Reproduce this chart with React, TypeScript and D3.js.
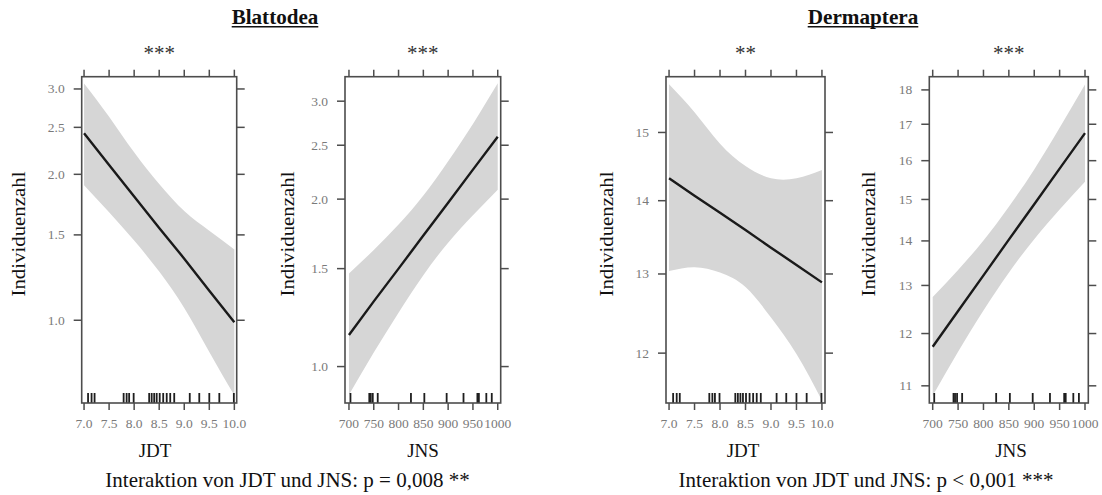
import React from "react";
import * as d3 from "d3";

// ---------- DATA ----------
const jdtGrid = [7.0, 7.5, 8.0, 8.5, 9.0, 9.5, 10.0];
const jnsGrid = [700, 750, 800, 850, 900, 950, 1000];

// Blattodea ~ JDT
const blattJdtFit = [2.43, 2.09, 1.8, 1.55, 1.34, 1.15, 0.99];
const blattJdtLower = [1.9, 1.67, 1.46, 1.26, 1.06, 0.86, 0.7];
const blattJdtUpper = [3.08, 2.63, 2.22, 1.91, 1.68, 1.53, 1.4];
// Blattodea ~ JNS
const blattJnsFit = [1.14, 1.31, 1.5, 1.72, 1.97, 2.26, 2.59];
const blattJnsLower = [0.89, 1.06, 1.25, 1.46, 1.67, 1.87, 2.08];
const blattJnsUpper = [1.47, 1.62, 1.8, 2.03, 2.34, 2.73, 3.23];
// Dermaptera ~ JDT
const dermJdtFit = [14.32, 14.07, 13.83, 13.59, 13.35, 13.12, 12.89];
const dermJdtLower = [13.04, 13.09, 13.02, 12.83, 12.44, 11.99, 11.44];
const dermJdtUpper = [15.75, 15.31, 14.83, 14.5, 14.32, 14.32, 14.44];
// Dermaptera ~ JNS
const dermJnsFit = [11.74, 12.46, 13.22, 14.03, 14.88, 15.79, 16.75];
const dermJnsLower = [10.82, 11.64, 12.47, 13.28, 14.04, 14.75, 15.45];
const dermJnsUpper = [12.75, 13.34, 14.01, 14.82, 15.77, 16.9, 18.16];

// rug (observed values)
const jdtRug = [7.08, 7.15, 7.21, 7.79, 7.85, 7.9, 7.99, 8.3, 8.35, 8.4, 8.45, 8.51, 8.58, 8.65, 8.72, 8.8, 9.11, 9.3, 9.5, 9.7, 9.99];
const jnsRug = [703, 741, 744, 748, 758, 825, 852, 897, 931, 959, 962, 977, 988];

// ticks
const jdtTicks = [7.0, 7.5, 8.0, 8.5, 9.0, 9.5, 10.0];
const jdtTickLabels = ["7.0", "7.5", "8.0", "8.5", "9.0", "9.5", "10.0"];
const jnsTicks = [700, 750, 800, 850, 900, 950, 1000];
const jnsTickLabels = ["700", "750", "800", "850", "900", "950", "1000"];
const blattJdtYTicks = [1.0, 1.5, 2.0, 2.5, 3.0];
const blattJdtYLabels = ["1.0", "1.5", "2.0", "2.5", "3.0"];
const blattJnsYTicks = [1.0, 1.5, 2.0, 2.5, 3.0];
const blattJnsYLabels = ["1.0", "1.5", "2.0", "2.5", "3.0"];
const dermJdtYTicks = [12, 13, 14, 15];
const dermJdtYLabels = ["12", "13", "14", "15"];
const dermJnsYTicks = [11, 12, 13, 14, 15, 16, 17, 18];
const dermJnsYLabels = ["11", "12", "13", "14", "15", "16", "17", "18"];

const groupTitles = ["Blattodea", "Dermaptera"];
const panelStars = ["***", "***", "**", "***"];
const xTitles = ["JDT", "JNS", "JDT", "JNS"];
const yTitle = "Individuenzahl";
const interactionTexts = [
  "Interaktion von JDT und JNS: p = 0,008 **",
  "Interaktion von JDT und JNS: p < 0,001 ***",
];

// ---------- LAYOUT ----------
const TOP = 76.7;
const BOTTOM = 403;
const FONT = "'Liberation Serif', 'Times New Roman', serif";

const panels = [
  {
    x0: 81.7, x1: 236.7, xDomain: [6.953, 10.047], yDomain: [0.675, 3.18],
    grid: jdtGrid, fit: blattJdtFit, lo: blattJdtLower, hi: blattJdtUpper, rug: jdtRug,
    xTicks: jdtTicks, xLabels: jdtTickLabels, yTicks: blattJdtYTicks, yLabels: blattJdtYLabels,
    stars: panelStars[0], xTitle: xTitles[0], yTitleX: 25, xTitleCx: 155,
  },
  {
    x0: 345, x1: 500.7, xDomain: [692, 1006], yDomain: [0.86, 3.32],
    grid: jnsGrid, fit: blattJnsFit, lo: blattJnsLower, hi: blattJnsUpper, rug: jnsRug,
    xTicks: jnsTicks, xLabels: jnsTickLabels, yTicks: blattJnsYTicks, yLabels: blattJnsYLabels,
    stars: panelStars[1], xTitle: xTitles[1], yTitleX: 294, xTitleCx: 423,
  },
  {
    x0: 666, x1: 825, xDomain: [6.94, 10.06], yDomain: [11.41, 15.87],
    grid: jdtGrid, fit: dermJdtFit, lo: dermJdtLower, hi: dermJdtUpper, rug: jdtRug,
    xTicks: jdtTicks, xLabels: jdtTickLabels, yTicks: dermJdtYTicks, yLabels: dermJdtYLabels,
    stars: panelStars[2], xTitle: xTitles[2], yTitleX: 613, xTitleCx: 743,
  },
  {
    x0: 929.3, x1: 1088.3, xDomain: [693.3, 1006.5], yDomain: [10.69, 18.4],
    grid: jnsGrid, fit: dermJnsFit, lo: dermJnsLower, hi: dermJnsUpper, rug: jnsRug,
    xTicks: jnsTicks, xLabels: jnsTickLabels, yTicks: dermJnsYTicks, yLabels: dermJnsYLabels,
    stars: panelStars[3], xTitle: xTitles[3], yTitleX: 875, xTitleCx: 1011,
  },
];

const groupLayout = [
  { cx: 275, width: 86.6, bottomCx: 287.5 },
  { cx: 863, width: 110.6, bottomCx: 866 },
];

const AXIS = "#4d4d4d";
const TICKLAB = "#7a7a7a";

function Panel({ p }: { p: any }) {
  const x = d3.scaleLinear().domain(p.xDomain).range([p.x0, p.x1]);
  const y = d3.scaleLog().domain(p.yDomain).range([BOTTOM, TOP]);
  const idx = p.grid.map((_: number, i: number) => i);
  const area = d3
    .area<number>()
    .x((i) => x(p.grid[i]))
    .y0((i) => y(p.lo[i]))
    .y1((i) => y(p.hi[i]))
    .curve(d3.curveNatural);
  const line = d3
    .line<number>()
    .x((i) => x(p.grid[i]))
    .y((i) => y(p.fit[i]));
  const cx = (p.x0 + p.x1) / 2;
  const cy = 234;
  return (
    <g>
      <defs>
        <clipPath id={`clip-${p.x0}`}>
          <rect x={p.x0} y={TOP} width={p.x1 - p.x0} height={BOTTOM - TOP} />
        </clipPath>
      </defs>
      <g clipPath={`url(#clip-${p.x0})`}>
        <path d={area(idx) || ""} fill="#d6d6d6" stroke="none" />
        <path d={line(idx) || ""} fill="none" stroke="#1a1a1a" strokeWidth={2.4} />
        {p.rug.map((v: number, i: number) => (
          <line key={i} x1={x(v)} x2={x(v)} y1={BOTTOM} y2={BOTTOM - 10} stroke="#1e1e1e" strokeWidth={1.8} />
        ))}
      </g>
      <rect x={p.x0} y={TOP} width={p.x1 - p.x0} height={BOTTOM - TOP} fill="none" stroke={AXIS} strokeWidth={1.6} />
      {p.xTicks.map((t: number, i: number) => (
        <g key={i}>
          <line x1={x(t)} x2={x(t)} y1={BOTTOM} y2={BOTTOM + 7} stroke={AXIS} strokeWidth={1.5} />
          <line x1={x(t)} x2={x(t)} y1={TOP} y2={TOP - 7} stroke={AXIS} strokeWidth={1.5} />
          <text x={x(t)} y={427.5} textAnchor="middle" fontSize={13.5} fill={TICKLAB} fontFamily={FONT}>
            {p.xLabels[i]}
          </text>
        </g>
      ))}
      {p.yTicks.map((t: number, i: number) => (
        <g key={i}>
          <line x1={p.x0} x2={p.x0 - 8} y1={y(t)} y2={y(t)} stroke={AXIS} strokeWidth={1.5} />
          <line x1={p.x1} x2={p.x1 + 8} y1={y(t)} y2={y(t)} stroke={AXIS} strokeWidth={1.5} />
          <text x={p.x0 - 17} y={y(t) + 4.5} textAnchor="end" fontSize={13.5} fill={TICKLAB} fontFamily={FONT}>
            {p.yLabels[i]}
          </text>
        </g>
      ))}
      <text x={cx} y={60} textAnchor="middle" fontSize={21} fill="#333" fontFamily={FONT}>
        {p.stars}
      </text>
      <text x={p.xTitleCx} y={456.7} textAnchor="middle" fontSize={19} fill="#111" fontFamily={FONT}>
        {p.xTitle}
      </text>
      <text
        transform={`translate(${p.yTitleX},${cy}) rotate(-90)`}
        textAnchor="middle"
        fontSize={19}
        fill="#111"
        fontFamily={FONT}
        textLength={125}
        lengthAdjust="spacingAndGlyphs"
      >
        {yTitle}
      </text>
    </g>
  );
}

export default function App() {
  return (
    <svg
      width={1102}
      height={495}
      viewBox="0 0 1102 495"
      style={{ position: "absolute", left: 0, top: 0, background: "#fff" }}
    >
      <rect x={0} y={0} width={1102} height={495} fill="#fff" />
      {panels.map((p, i) => (
        <Panel key={i} p={p} />
      ))}
      {groupTitles.map((t, i) => (
        <g key={t}>
          <text
            x={groupLayout[i].cx}
            y={24}
            textAnchor="middle"
            fontSize={21}
            fontWeight="bold"
            fill="#111"
            fontFamily={FONT}
            textLength={groupLayout[i].width}
            lengthAdjust="spacingAndGlyphs"
          >
            {t}
          </text>
          <line
            x1={groupLayout[i].cx - groupLayout[i].width / 2}
            x2={groupLayout[i].cx + groupLayout[i].width / 2}
            y1={26.8}
            y2={26.8}
            stroke="#111"
            strokeWidth={1.4}
          />
          <text x={groupLayout[i].bottomCx} y={486.5} textAnchor="middle" fontSize={21} fill="#111" fontFamily={FONT}>
            {interactionTexts[i]}
          </text>
        </g>
      ))}
    </svg>
  );
}
